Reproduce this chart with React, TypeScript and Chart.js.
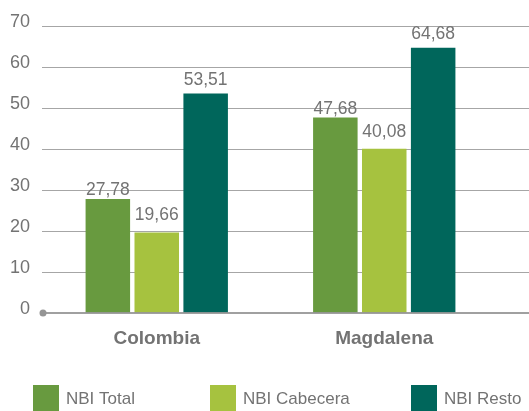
import React, { useEffect, useRef } from "react";
import { Chart, registerables } from "chart.js";

Chart.register(...registerables);

const categories = ["Colombia", "Magdalena"];
const seriesNames = ["NBI Total", "NBI Cabecera", "NBI Resto"];
const nbiTotal = [27.78, 47.68];
const nbiCabecera = [19.66, 40.08];
const nbiResto = [53.51, 64.68];
const yTicks = [0, 10, 20, 30, 40, 50, 60, 70];

const COLORS = ["#689A3F", "#A6C23F", "#00665B"];
const TEXT = "#737373";
const FONT = "'Liberation Sans', Arial, sans-serif";

const fmt = (v: number) => v.toFixed(2).replace(".", ",");

const customPlugin = {
  id: "custom",
  beforeDatasetsDraw(chart: any) {
    const { ctx, chartArea, scales } = chart;
    const y = scales.y;
    ctx.save();
    ctx.strokeStyle = "#A6A6A6";
    ctx.lineWidth = 1;
    yTicks.forEach((t) => {
      if (t === 0) return;
      const py = Math.round(y.getPixelForValue(t)) + 0.5;
      ctx.beginPath();
      ctx.moveTo(chartArea.left - 1, py);
      ctx.lineTo(chart.width, py);
      ctx.stroke();
    });
    ctx.restore();
  },
  afterDatasetsDraw(chart: any) {
    const { ctx, chartArea, scales } = chart;
    const y0 = scales.y.getPixelForValue(0);
    ctx.save();
    ctx.strokeStyle = "rgba(150,150,150,0.9)";
    ctx.lineWidth = 2;
    ctx.beginPath();
    ctx.moveTo(chartArea.left, y0);
    ctx.lineTo(chart.width, y0);
    ctx.stroke();
    ctx.fillStyle = "#959595";
    ctx.beginPath();
    ctx.arc(chartArea.left, y0, 3.5, 0, Math.PI * 2);
    ctx.fill();

    // value labels
    ctx.font = `17.5px ${FONT}`;
    ctx.fillStyle = TEXT;
    ctx.textAlign = "center";
    ctx.textBaseline = "alphabetic";
    chart.data.datasets.forEach((ds: any, i: number) => {
      const meta = chart.getDatasetMeta(i);
      meta.data.forEach((bar: any, j: number) => {
        ctx.fillText(fmt(ds.data[j]), bar.x, bar.y - ds.labelGap);
      });
    });

    // legend
    const lx = [33, 210, 411];
    ctx.font = `17px ${FONT}`;
    ctx.textAlign = "left";
    chart.data.datasets.forEach((ds: any, i: number) => {
      ctx.fillStyle = ds.backgroundColor;
      ctx.fillRect(lx[i], 385, 26, 26);
      ctx.fillStyle = TEXT;
      ctx.fillText(ds.label, lx[i] + 33, 404);
    });
    ctx.restore();
  },
};

export default function App() {
  const ref = useRef<HTMLCanvasElement>(null);
  useEffect(() => {
    if (!ref.current) return;
    const chart = new Chart(ref.current, {
      type: "bar",
      data: {
        labels: categories,
        datasets: [
          { label: seriesNames[0], data: nbiTotal, backgroundColor: COLORS[0], labelGap: 4 } as any,
          { label: seriesNames[1], data: nbiCabecera, backgroundColor: COLORS[1], labelGap: 12 } as any,
          { label: seriesNames[2], data: nbiResto, backgroundColor: COLORS[2], labelGap: 9 } as any,
        ],
      },
      options: {
        animation: false,
        responsive: false,
        maintainAspectRatio: false,
        categoryPercentage: 0.645,
        barPercentage: 0.91,
        layout: { padding: { top: 26, right: 31, bottom: 0, left: 0 } },
        plugins: { legend: { display: false }, tooltip: { enabled: false } },
        scales: {
          x: {
            grid: { display: false, drawTicks: false, tickLength: 0 },
            border: { display: false },
            ticks: {
              color: TEXT,
              font: { family: FONT, size: 19, weight: "bold" },
              padding: 14,
            },
            afterFit(scale: any) {
              scale.height = 98;
            },
          },
          y: {
            min: 0,
            max: 70,
            grid: { display: false, drawTicks: false, tickLength: 0 },
            border: { display: false },
            ticks: {
              stepSize: 10,
              color: TEXT,
              font: { family: FONT, size: 18 },
              padding: 13,
              labelOffset: -4,
            },
            afterFit(scale: any) {
              scale.width = 43;
            },
          },
        },
      },
      plugins: [customPlugin],
    });
    return () => chart.destroy();
  }, []);
  return (
    <div style={{ position: "fixed", left: 0, top: 0, width: 529, height: 411, background: "#fff" }}>
      <canvas ref={ref} width={529} height={411} style={{ width: 529, height: 411 }} />
    </div>
  );
}
